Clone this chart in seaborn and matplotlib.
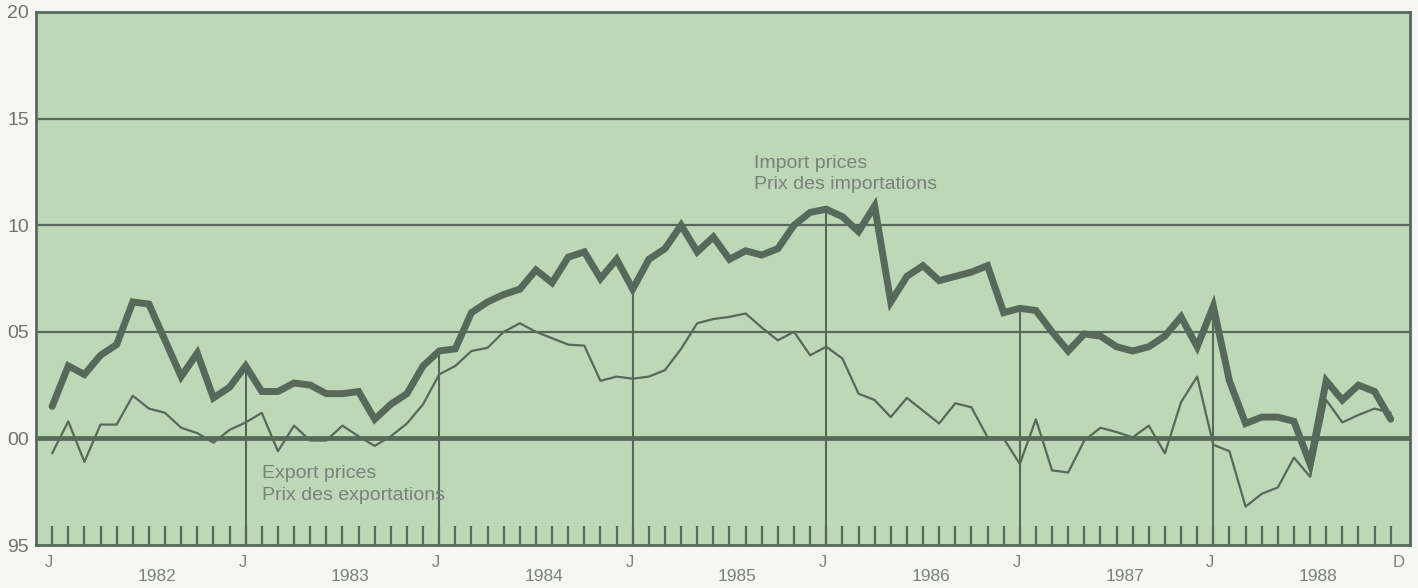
import numpy as np
import pandas as pd
import matplotlib
matplotlib.use('Agg')
import matplotlib.pyplot as plt
import seaborn as sns

# monthly index, Jan 1982 .. Dec 1988
years = ['1982', '1983', '1984', '1985', '1986', '1987', '1988']
import_prices = [101.5, 103.4, 103.0, 103.9, 104.4, 106.4, 106.3, 104.6, 102.9, 104.0, 101.9, 102.4,
                 103.4, 102.2, 102.2, 102.6, 102.5, 102.1, 102.1, 102.2, 100.9, 101.6, 102.1, 103.4,
                 104.1, 104.2, 105.9, 106.4, 106.75, 107.0, 107.9, 107.3, 108.5, 108.75, 107.5, 108.4,
                 107.0, 108.4, 108.9, 110.0, 108.75, 109.45, 108.4, 108.8, 108.6, 108.9, 110.0, 110.6,
                 110.75, 110.4, 109.7, 110.9, 106.4, 107.6, 108.1, 107.4, 107.6, 107.8, 108.1, 105.9,
                 106.1, 106.0, 105.0, 104.1, 104.9, 104.8, 104.3, 104.1, 104.3, 104.8, 105.7, 104.3,
                 106.2, 102.7, 100.7, 101.0, 101.0, 100.8, 98.8, 102.7, 101.8, 102.5, 102.2, 100.9]
export_prices = [99.3, 100.8, 98.9, 100.65, 100.65, 102.0, 101.4, 101.2, 100.5, 100.25, 99.8, 100.4,
                 100.75, 101.2, 99.4, 100.6, 99.9, 99.9, 100.6, 100.1, 99.65, 100.1, 100.7, 101.6,
                 103.0, 103.4, 104.1, 104.25, 105.0, 105.4, 105.0, 104.7, 104.4, 104.35, 102.7, 102.9,
                 102.8, 102.9, 103.2, 104.2, 105.4, 105.6, 105.7, 105.86, 105.2, 104.6, 105.0, 103.9,
                 104.3, 103.75, 102.1, 101.8, 101.0, 101.9, 101.3, 100.7, 101.65, 101.46, 100.06, 100.0,
                 98.8, 100.9, 98.5, 98.4, 99.9, 100.5, 100.3, 100.05, 100.6, 99.3, 101.7, 102.9,
                 99.7, 99.4, 96.8, 97.4, 97.7, 99.1, 98.2, 101.8, 100.75, 101.1, 101.4, 101.2]
yticks = [95, 100, 105, 110, 115, 120]
ytick_labels = ['95', '00', '05', '10', '15', '20']

months = np.arange(len(import_prices))
df = pd.DataFrame({'month': months, 'import': import_prices, 'export': export_prices})

sns.set_style('white')
plt.rcParams['font.family'] = ['Liberation Sans', 'DejaVu Sans']

ink = '#56695a'
txt = '#7a827a'

fig = plt.figure(figsize=(14.18, 5.88), dpi=100, facecolor='#f6f7f4')
ax = fig.add_axes([0.0254, 0.0731, 0.9690, 0.9065])
ax.set_facecolor('#bcd8b6')
ax.set_xlim(-1, 84.2)
ax.set_ylim(95, 120)

for y in [105, 110, 115]:
    ax.axhline(y, color=ink, lw=1.6, zorder=1)
ax.axhline(100, color=ink, lw=3.4, zorder=1)

# monthly ticks along the bottom
ax.vlines(months, 95, 95.9, color=ink, lw=1.6, zorder=1)
# drop lines from import series at each January
jan = months[12::12]
ax.vlines(jan, 95, df['import'].values[jan], color=ink, lw=1.5, zorder=1)

sns.lineplot(data=df, x='month', y='export', color=ink, lw=1.6, ax=ax, zorder=3)
sns.lineplot(data=df, x='month', y='import', color=ink, lw=5, ax=ax, zorder=4,
             solid_joinstyle='miter')

ax.set_yticks(yticks)
ax.set_yticklabels(ytick_labels, fontsize=14, color='#6f736f')
ax.tick_params(axis='y', length=0, pad=5)
ax.set_xticks([])
ax.set_xlabel('')
ax.set_ylabel('')
for s in ax.spines.values():
    s.set_color(ink)
    s.set_linewidth(2)

for k, yr in enumerate(years):
    ax.text(12 * k - 0.2, 94.2, 'J', ha='center', va='center', fontsize=12, color=txt, clip_on=False)
    ax.text(12 * k + 6.5, 93.5, yr, ha='center', va='center', fontsize=12.5, color=txt, clip_on=False)
ax.text(83.5, 94.2, 'D', ha='center', va='center', fontsize=12, color=txt, clip_on=False)

ax.text(43.5, 113.3, 'Import prices\nPrix des importations', ha='left', va='top',
        fontsize=14, color=txt, linespacing=1.35)
ax.text(13.0, 98.75, 'Export prices\nPrix des exportations', ha='left', va='top',
        fontsize=14, color=txt, linespacing=1.35)

fig.savefig('out.png', dpi=100, facecolor=fig.get_facecolor())
